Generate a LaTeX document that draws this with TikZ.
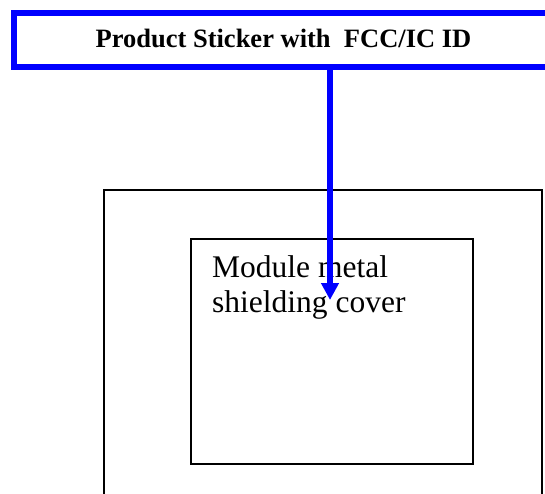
\documentclass[tikz,border=0pt]{standalone}
\usepackage{fontspec}
\setmainfont{Liberation Serif}
\usetikzlibrary{arrows.meta}
\begin{document}
\begin{tikzpicture}[x=1pt,y=-1pt,
  bannerbox/.style={draw={rgb,255:red,0;green,0;blue,255}, line width=6pt, inner sep=0pt, anchor=north west},
  plainbox/.style={draw=black, line width=2pt, inner sep=0pt, anchor=north west},
  bluearrow/.style={draw={rgb,255:red,0;green,0;blue,255}, line width=6pt, -{Triangle[width=17pt,length=17pt]}}]
\useasboundingbox (0,0) rectangle (545,493);
\clip (0,0) rectangle (545,493);
\node[bannerbox, minimum width=590pt, minimum height=54.5pt] (banner) at (10.5,9.5) {};
\node[font=\fontsize{26.5}{30}\selectfont\bfseries, anchor=base, inner sep=0pt] (bannertext) at (283.5,47) {Product Sticker with\ \ FCC/IC ID};
\node[plainbox, minimum width=438.5pt, minimum height=340pt] (outer) at (102.5,189) {};
\node[plainbox, minimum width=282pt, minimum height=225pt] (inner) at (190,238) {};
\node[font=\fontsize{31.5}{35}\selectfont, align=left, anchor=base west, inner sep=0pt] (modtext) at (212,312) {Module metal\\shielding cover};
\coordinate (arrowstart) at (330,70);
\coordinate (arrowtip) at (330,300);
\draw[bluearrow] (arrowstart) -- (arrowtip);
\end{tikzpicture}
\end{document}
